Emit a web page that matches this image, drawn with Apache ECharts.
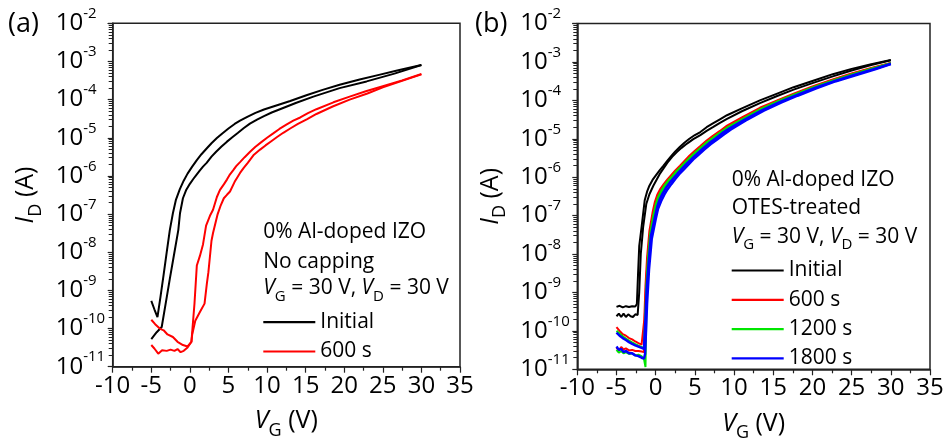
<!DOCTYPE html>
<html>
<head>
<meta charset="utf-8">
<script src="https://cdn.jsdelivr.net/npm/echarts@6/dist/echarts.min.js"></script>
<style>
html, body { margin: 0; padding: 0; background: #fff; }
#chart { width: 949px; height: 448px; }
</style>
</head>
<body>
<div id="chart"></div>
<script>
const FONT = "'Open Sans', sans-serif";

// (a) no capping: [VG (V), ID (A)], two sweep branches per condition
const aInitialLeft = [[-5, 5.3e-10], [-4.6, 3.2e-10], [-4.2, 2.0e-10], [-3.8, 7e-10], [-3.4, 2.6e-9], [-3.0, 1.0e-8], [-2.6, 3.8e-8], [-2.2, 1.05e-7], [-1.8, 2.4e-7], [-1.3, 4.5e-7], [-0.8, 7.5e-7], [-0.3, 1.15e-6], [0.3, 1.75e-6], [0.9, 2.6e-6], [1.5, 3.7e-6], [2.2, 5.3e-6], [2.8, 7.2e-6], [3.5, 9.8e-6], [4.2, 1.3e-5], [5, 1.75e-5], [5.8, 2.3e-5], [6.5, 2.8e-5], [7.5, 3.6e-5], [8.5, 4.5e-5], [9.6, 5.5e-5], [10.8, 6.6e-5], [13, 9.2e-5], [15.1, 1.3e-4], [17.2, 1.8e-4], [19.4, 2.45e-4], [22, 3.35e-4], [24.5, 4.45e-4], [27, 5.9e-4], [30, 8.1e-4]];
const aInitialRight = [[-5, 5.3e-11], [-4.3, 8e-11], [-3.65, 1.1e-10], [-3.1, 5e-10], [-2.6, 2e-9], [-2.0, 1e-8], [-1.5, 3.8e-8], [-1.28, 1.05e-7], [-0.9, 2.6e-7], [-0.5, 4.2e-7], [0, 6.2e-7], [0.44, 8.3e-7], [0.9, 1.1e-6], [1.3, 1.4e-6], [1.7, 1.75e-6], [2.17, 2.2e-6], [2.8, 3.2e-6], [3.4, 4.3e-6], [4.1, 5.9e-6], [4.77, 7.8e-6], [5.5, 1.03e-5], [6.2, 1.33e-5], [7.0, 1.8e-5], [7.78, 2.35e-5], [8.7, 3.0e-5], [9.6, 3.7e-5], [10.6, 4.6e-5], [11.67, 5.6e-5], [13.8, 8.3e-5], [16, 1.2e-4], [19.4, 2.0e-4], [22.9, 3.0e-4], [26.5, 4.8e-4], [30, 8.1e-4]];
const a600Left = [[-5, 1.7e-10], [-4.5, 1.3e-10], [-3.9, 1.0e-10], [-3.4, 9e-11], [-2.9, 7e-11], [-2.2, 6e-11], [-1.6, 4.5e-11], [-0.9, 3.7e-11], [-0.3, 3.4e-11], [0.2, 4.5e-11], [0.6, 4.6e-10], [0.9, 4.5e-9], [1.3, 8e-9], [1.7, 1.6e-8], [2.1, 5e-8], [2.6, 9e-8], [3.0, 1.3e-7], [3.5, 2.8e-7], [3.9, 4.3e-7], [4.4, 6e-7], [4.8, 8e-7], [5.2, 1.1e-6], [5.6, 1.4e-6], [6.0, 1.8e-6], [6.5, 2.3e-6], [7.1, 3.1e-6], [7.8, 4.3e-6], [8.5, 5.8e-6], [9.3, 7.8e-6], [10.0, 1.0e-5], [10.8, 1.3e-5], [11.6, 1.7e-5], [12.5, 2.2e-5], [13.4, 2.8e-5], [14.3, 3.4e-5], [15.3, 4.4e-5], [16.4, 5.6e-5], [18.6, 8.5e-5], [20.7, 1.2e-4], [22.8, 1.65e-4], [25, 2.25e-4], [27.5, 3.2e-4], [30, 4.7e-4]];
const a600Right = [[-5, 3.7e-11], [-4.6, 3.0e-11], [-4.1, 2.2e-11], [-3.6, 2.7e-11], [-3.0, 2.6e-11], [-2.5, 2.8e-11], [-2.0, 2.6e-11], [-1.6, 2.9e-11], [-1.2, 2.4e-11], [-0.8, 2.6e-11], [-0.3, 3.2e-11], [0.2, 4.5e-11], [0.3, 7e-11], [0.7, 1.6e-10], [1.3, 2.7e-10], [1.9, 4.5e-10], [2.2, 1.5e-9], [2.4, 3e-9], [2.8, 2e-8], [3.0, 3.2e-8], [3.6, 1e-7], [4.0, 1.7e-7], [4.4, 2.6e-7], [4.8, 3.2e-7], [5.2, 3.9e-7], [5.8, 7e-7], [6.5, 1.2e-6], [7.0, 1.65e-6], [7.5, 2.2e-6], [8.3, 3.6e-6], [9.1, 4.9e-6], [9.8, 6.3e-6], [10.5, 8e-6], [11.3, 1.05e-5], [12.1, 1.35e-5], [13.0, 1.75e-5], [14, 2.3e-5], [15.2, 3.1e-5], [16.4, 4.2e-5], [18.5, 6.6e-5], [20.7, 1.0e-4], [23, 1.45e-4], [25, 2.1e-4], [27.5, 3.1e-4], [30, 4.6e-4]];

// (b) OTES-treated
const bInitialUpper = [[-5, 4.2e-10], [-4.6, 4.5e-10], [-4.2, 4.1e-10], [-3.8, 4.4e-10], [-3.4, 4.2e-10], [-3, 4.4e-10], [-2.6, 4.3e-10], [-2.4, 5e-10], [-2.25, 3e-9], [-2.1, 1.6e-8], [-1.8, 5e-8], [-1.4, 2.5e-7], [-1.1, 4.2e-7], [-0.8, 6e-7], [-0.4, 8.5e-7], [0, 1.1e-6], [0.5, 1.5e-6], [1, 2e-6], [1.5, 2.7e-6], [2, 3.6e-6], [2.5, 4.7e-6], [3.1, 6.2e-6], [3.7, 8e-6], [4.3, 1e-5], [5.0, 1.25e-5], [5.7, 1.5e-5], [6.5, 2e-5], [7.3, 2.5e-5], [8.2, 3.2e-5], [9.1, 4.1e-5], [11, 6.2e-5], [13.3, 1e-4], [15.5, 1.5e-4], [17.6, 2.2e-4], [20, 3.2e-4], [22.6, 4.8e-4], [25, 6.6e-4], [27.5, 8.7e-4], [30, 1.12e-3]];
const bInitialLower = [[-5, 2.4e-10], [-4.7, 2.8e-10], [-4.4, 2.3e-10], [-4.1, 2.8e-10], [-3.8, 2.3e-10], [-3.5, 2.7e-10], [-3.2, 2.4e-10], [-2.9, 2.3e-10], [-2.6, 2.7e-10], [-2.3, 2.6e-10], [-2.1, 1e-9], [-1.9, 1e-8], [-1.6, 5e-8], [-1.2, 2e-7], [-0.8, 3.6e-7], [-0.3, 6e-7], [0.1, 8.5e-7], [0.5, 1.2e-6], [1.0, 1.7e-6], [1.5, 2.4e-6], [2.1, 3.4e-6], [2.7, 4.5e-6], [3.3, 5.8e-6], [4, 7.5e-6], [4.8, 9.8e-6], [5.7, 1.25e-5], [6.5, 1.6e-5], [7.3, 2e-5], [8.2, 2.6e-5], [9.1, 3.3e-5], [11, 5.2e-5], [13.3, 8.5e-5], [15.5, 1.3e-4], [17.6, 1.9e-4], [20, 2.8e-4], [22.6, 4.2e-4], [25, 6e-4], [27.5, 8.3e-4], [30, 1.1e-3]];
const b600Upper = [[-5, 1.25e-10], [-4.6, 1.0e-10], [-4.2, 8.2e-11], [-3.8, 7.5e-11], [-3.4, 6.5e-11], [-3.0, 6e-11], [-2.6, 5.3e-11], [-2.2, 4.8e-11], [-1.8, 4.4e-11], [-1.6, 4.5e-11], [-1.45, 2e-10], [-1.3, 1.5e-9], [-1.1, 8e-9], [-0.8, 4e-8], [-0.4, 1.2e-7], [-0.1, 2.3e-7], [0.2, 3.5e-7], [0.6, 5e-7], [1.0, 6.5e-7], [1.5, 8.8e-7], [2.0, 1.15e-6], [2.5, 1.5e-6], [3.1, 2e-6], [3.7, 2.7e-6], [4.3, 3.6e-6], [5.0, 4.9e-6], [5.7, 6.5e-6], [6.5, 9e-6], [7.3, 1.2e-5], [8.2, 1.6e-5], [9.1, 2.2e-5], [11, 3.6e-5], [13.3, 6.4e-5], [15.5, 1e-4], [17.6, 1.5e-4], [20, 2.3e-4], [22.6, 3.5e-4], [25, 5e-4], [27.5, 7e-4], [30, 9.4e-4]];
const b600Lower = [[-5, 3.6e-11], [-4.7, 3.1e-11], [-4.4, 3.8e-11], [-4.1, 3.3e-11], [-3.8, 3.5e-11], [-3.4, 3.1e-11], [-3.0, 3.2e-11], [-2.6, 3.0e-11], [-2.2, 3.0e-11], [-1.8, 2.9e-11], [-1.5, 2.8e-11], [-1.4, 2e-10], [-1.2, 2e-9], [-1.0, 9e-9], [-0.7, 4e-8], [-0.3, 1.1e-7], [0.0, 2.1e-7], [0.3, 3.2e-7], [0.7, 4.7e-7], [1.1, 6.2e-7], [1.6, 8.4e-7], [2.1, 1.1e-6], [2.6, 1.45e-6], [3.2, 1.9e-6], [3.8, 2.6e-6], [4.4, 3.4e-6], [5.1, 4.6e-6], [5.8, 6.2e-6], [6.6, 8.6e-6], [7.4, 1.15e-5], [8.3, 1.55e-5], [9.2, 2.1e-5], [11.1, 3.5e-5], [13.4, 6.2e-5], [15.6, 9.8e-5], [17.7, 1.45e-4], [20.1, 2.25e-4], [22.7, 3.45e-4], [25.1, 4.9e-4], [27.6, 6.9e-4], [30, 9.3e-4]];
const b1200Upper = [[-5, 1.0e-10], [-4.6, 8.5e-11], [-4.2, 7.2e-11], [-3.8, 6.3e-11], [-3.4, 5.6e-11], [-3.0, 5e-11], [-2.6, 4.5e-11], [-2.2, 4.1e-11], [-1.8, 3.8e-11], [-1.5, 3.6e-11], [-1.35, 2e-10], [-1.2, 1.5e-9], [-1.0, 7e-9], [-0.7, 3.5e-8], [-0.3, 1.0e-7], [0.0, 1.9e-7], [0.3, 3e-7], [0.7, 4.4e-7], [1.1, 6e-7], [1.6, 8.2e-7], [2.1, 1.05e-6], [2.6, 1.4e-6], [3.2, 1.85e-6], [3.8, 2.5e-6], [4.4, 3.3e-6], [5.1, 4.5e-6], [5.8, 6e-6], [6.6, 8.3e-6], [7.4, 1.1e-5], [8.3, 1.5e-5], [9.2, 2e-5], [11.1, 3.3e-5], [13.4, 6e-5], [15.6, 9.5e-5], [17.7, 1.42e-4], [20.1, 2.2e-4], [22.7, 3.35e-4], [25.1, 4.8e-4], [27.6, 6.8e-4], [30, 9.2e-4]];
const b1200Lower = [[-5, 3.2e-11], [-4.7, 2.7e-11], [-4.4, 3.0e-11], [-4.1, 2.6e-11], [-3.8, 2.8e-11], [-3.4, 2.5e-11], [-3.0, 2.6e-11], [-2.6, 2.3e-11], [-2.2, 2.4e-11], [-1.8, 2.2e-11], [-1.5, 1.9e-11], [-1.3, 1.15e-11], [-1.15, 1e-9], [-0.95, 7e-9], [-0.6, 3.2e-8], [-0.2, 9.5e-8], [0.1, 1.8e-7], [0.4, 2.8e-7], [0.8, 4.1e-7], [1.2, 5.6e-7], [1.7, 7.7e-7], [2.2, 1e-6], [2.7, 1.35e-6], [3.3, 1.8e-6], [3.9, 2.4e-6], [4.5, 3.2e-6], [5.2, 4.3e-6], [5.9, 5.8e-6], [6.7, 8e-6], [7.5, 1.05e-5], [8.4, 1.45e-5], [9.3, 1.95e-5], [11.2, 3.2e-5], [13.5, 5.8e-5], [15.7, 9.2e-5], [17.8, 1.4e-4], [20.2, 2.15e-4], [22.8, 3.3e-4], [25.2, 4.7e-4], [27.7, 6.7e-4], [30, 9.1e-4]];
const b1800Upper = [[-5, 9e-11], [-4.6, 7.5e-11], [-4.2, 6.5e-11], [-3.8, 5.8e-11], [-3.4, 5.1e-11], [-3.0, 4.6e-11], [-2.6, 4.2e-11], [-2.2, 3.9e-11], [-1.8, 3.6e-11], [-1.5, 3.4e-11], [-1.3, 2e-10], [-1.15, 1.2e-9], [-0.9, 6e-9], [-0.6, 3e-8], [-0.1, 9e-8], [0.2, 1.7e-7], [0.5, 2.6e-7], [0.9, 3.8e-7], [1.3, 5.2e-7], [1.8, 7.2e-7], [2.3, 9.5e-7], [2.8, 1.25e-6], [3.4, 1.7e-6], [4.0, 2.3e-6], [4.6, 3e-6], [5.3, 4.1e-6], [6.0, 5.5e-6], [6.8, 7.6e-6], [7.6, 1e-5], [8.5, 1.4e-5], [9.4, 1.85e-5], [11.3, 3.1e-5], [13.6, 5.6e-5], [15.8, 9e-5], [17.9, 1.35e-4], [20.3, 2.1e-4], [22.9, 3.2e-4], [25.3, 4.6e-4], [27.8, 6.5e-4], [30, 8.9e-4]];
const b1800Lower = [[-5, 3.9e-11], [-4.7, 3.2e-11], [-4.4, 3.4e-11], [-4.1, 2.8e-11], [-3.8, 3.0e-11], [-3.4, 2.6e-11], [-3.0, 2.6e-11], [-2.6, 2.3e-11], [-2.2, 2.2e-11], [-1.8, 2.0e-11], [-1.5, 1.9e-11], [-1.35, 2.5e-11], [-1.1, 5e-10], [-0.85, 4e-9], [-0.5, 2.5e-8], [0.0, 8e-8], [0.3, 1.5e-7], [0.7, 2.4e-7], [1.1, 3.5e-7], [1.5, 4.8e-7], [2.0, 6.6e-7], [2.5, 9e-7], [3.0, 1.2e-6], [3.6, 1.6e-6], [4.2, 2.15e-6], [4.8, 2.9e-6], [5.5, 3.9e-6], [6.2, 5.2e-6], [7.0, 7.2e-6], [7.8, 9.5e-6], [8.7, 1.3e-5], [9.6, 1.75e-5], [11.5, 3e-5], [13.8, 5.4e-5], [16, 8.7e-5], [18.1, 1.32e-4], [20.5, 2.05e-4], [23, 3.15e-4], [25.5, 4.5e-4], [28, 6.4e-4], [30, 8.8e-4]];

const legendA = ["Initial", "600 s"];
const legendB = ["Initial", "600 s", "1200 s", "1800 s"];
const colors = { "Initial": "#000000", "600 s": "#ff0000", "1200 s": "#00e600", "1800 s": "#0000ff" };

const axisColor = "#222";

const subRich = {
  i: { fontFamily: FONT, fontSize: 25, fontStyle: "italic", color: "#000", verticalAlign: "top" },
  d: { fontFamily: FONT, fontSize: 18, color: "#000", verticalAlign: "bottom", padding: [13, 0, 0, 0] },
  n: { fontFamily: FONT, fontSize: 25, color: "#000", verticalAlign: "top" },
};

function xAxisFor(gridIndex) {
  return {
    gridIndex,
    type: "value",
    min: -10,
    max: 35,
    interval: 5,
    axisLine: { show: true, onZero: false, lineStyle: { color: axisColor, width: 1.5 } },
    axisTick: { show: true, length: 6, lineStyle: { color: axisColor, width: 1.2 } },
    minorTick: { show: true, splitNumber: 2, length: 4, lineStyle: { color: axisColor, width: 1.2 } },
    splitLine: { show: false },
    axisLabel: { fontFamily: FONT, fontSize: 24, color: "#000", margin: 7 },
    name: "{i|V}{d|G}{n| (V)}",
    nameLocation: "middle",
    nameGap: 42,
    nameTextStyle: { rich: subRich },
  };
}

function yAxisFor(gridIndex) {
  return {
    gridIndex,
    type: "log",
    logBase: 10,
    min: 1e-11,
    max: 1e-2,
    splitNumber: 9,
    axisLine: { show: true, onZero: false, lineStyle: { color: axisColor, width: 1.5 } },
    axisTick: { show: true, length: 5, lineStyle: { color: axisColor, width: 1.2 } },
    minorTick: { show: true, splitNumber: 9, length: 4, lineStyle: { color: axisColor, width: 1 } },
    splitLine: { show: false },
    axisLabel: {
      margin: 57,
      align: "left",
      padding: [0, 0, 5, 0],
      formatter: (v) => "{b|10}{s|" + Math.round(Math.log10(v)) + "}",
      rich: {
        b: { fontFamily: FONT, fontSize: 24, color: "#000", verticalAlign: "bottom", padding: [5, 0, 0, 0] },
        s: { fontFamily: FONT, fontSize: 15, color: "#000", verticalAlign: "top" },
      },
    },
    name: "{i|I}{d|D}{n| (A)}",
    nameLocation: "middle",
    nameGap: 68,
    nameTextStyle: { rich: subRich },
  };
}

function line(name, data, idx, width) {
  return {
    name,
    type: "line",
    xAxisIndex: idx,
    yAxisIndex: idx,
    data,
    symbol: "none",
    showSymbol: false,
    silent: true,
    lineStyle: { color: colors[name], width: width || 2 },
    itemStyle: { color: colors[name] },
  };
}

function legendFor(names, left, top) {
  return {
    data: names,
    orient: "vertical",
    left,
    top,
    padding: 0,
    icon: "rect",
    itemWidth: 52,
    itemHeight: 2.2,
    itemGap: 8.3,
    selectedMode: false,
    textStyle: { fontFamily: FONT, fontSize: 21, color: "#000", lineHeight: 20 },
  };
}

const vRich = {
  v: { fontFamily: FONT, fontSize: 21, fontStyle: "italic", color: "#000", verticalAlign: "top" },
  g: { fontFamily: FONT, fontSize: 15, color: "#000", verticalAlign: "bottom", padding: [11, 0, 0, 0] },
  t: { fontFamily: FONT, fontSize: 21, color: "#000", verticalAlign: "top" },
};

function note(text, x, yCenter) {
  return {
    type: "text",
    x,
    y: yCenter - 10.5,
    silent: true,
    style: { text, rich: vRich, fontFamily: FONT, fontSize: 21, fill: "#000", align: "left", verticalAlign: "top" },
  };
}

const chart = echarts.init(document.getElementById("chart"), null, { renderer: "canvas" });

chart.setOption({
  animation: false,
  backgroundColor: "#fff",
  grid: [
    { left: 112.7, top: 23.3, width: 347.3, height: 343.4, show: true, borderColor: axisColor, borderWidth: 1.5, backgroundColor: "transparent" },
    { left: 577.3, top: 23.5, width: 352.7, height: 345.8, show: true, borderColor: axisColor, borderWidth: 1.5, backgroundColor: "transparent" },
  ],
  xAxis: [xAxisFor(0), xAxisFor(1)],
  yAxis: [yAxisFor(0), yAxisFor(1)],
  legend: [legendFor(legendA, 263.3, 311.7), legendFor(legendB, 731.7, 260)],
  graphic: [
    { type: "text", x: 8, y: 24, silent: true, style: { text: "(a)", fontFamily: FONT, fontSize: 27, fill: "#000", verticalAlign: "middle" } },
    { type: "text", x: 475, y: 24, silent: true, style: { text: "(b)", fontFamily: FONT, fontSize: 27, fill: "#000", verticalAlign: "middle" } },
    note("{t|0% Al-doped IZO}", 263.3, 231.7),
    note("{t|No capping}", 263.3, 261.7),
    note("{v|V}{g|G}{t| = 30 V, }{v|V}{g|D}{t| = 30 V}", 263.3, 288.3),
    note("{t|0% Al-doped IZO}", 731.7, 180),
    note("{t|OTES-treated}", 731.7, 208.3),
    note("{v|V}{g|G}{t| = 30 V, }{v|V}{g|D}{t| = 30 V}", 731.7, 236.7),
  ],
  series: [
    line("Initial", aInitialLeft, 0),
    line("Initial", aInitialRight, 0),
    line("600 s", a600Left, 0),
    line("600 s", a600Right, 0),
    line("Initial", bInitialUpper, 1),
    line("Initial", bInitialLower, 1),
    line("600 s", b600Upper, 1),
    line("600 s", b600Lower, 1),
    line("1200 s", b1200Upper, 1),
    line("1200 s", b1200Lower, 1),
    line("1800 s", b1800Upper, 1, 2.5),
    line("1800 s", b1800Lower, 1, 2.5),
  ],
});
</script>
</body>
</html>
